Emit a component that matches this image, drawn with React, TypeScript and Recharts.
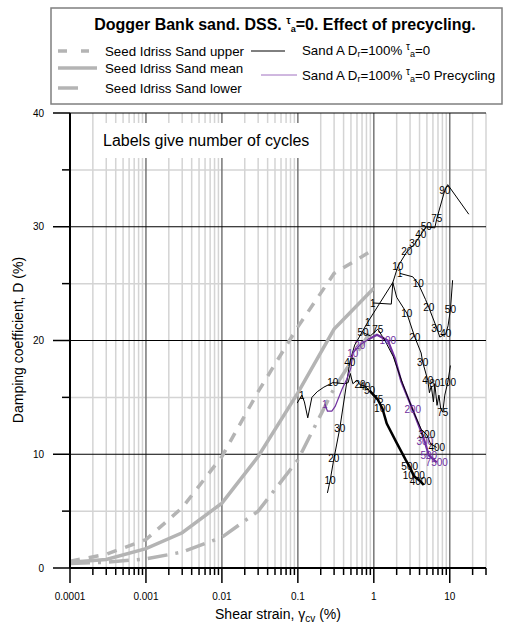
import React from "react";
import { ComposedChart, Line, XAxis, YAxis, CartesianGrid, LabelList } from "recharts";

type Pt = { x: number; d: number; n?: string };

const FONT = "'Liberation Sans', Arial, sans-serif";
const GREY = "#b4b4b4";
const PURPLE = "#7030a0";

// Seed & Idriss sand band
const SI_STRAIN = [0.0001, 0.0003, 0.001, 0.003, 0.01, 0.03, 0.1, 0.3, 1];
const SI_UPPER = [0.6, 1.2, 2.5, 5.3, 9.8, 15.5, 21.2, 25.9, 28.0];
const SI_MEAN = [0.5, 0.75, 1.7, 3.1, 5.7, 9.8, 15.4, 21.0, 24.6];
const SI_LOWER = [0.4, 0.5, 0.8, 1.4, 2.7, 5.0, 9.5, 15.8, 21.2];

// Sand A, Dr=100%, tau_a=0 (labels = number of cycles)
const TEST_STEEP: Pt[] = [
  { x: 0.245, d: 6.6 }, { x: 0.266, d: 7.7, n: "10" }, { x: 0.298, d: 9.6, n: "20" },
  { x: 0.357, d: 12.3, n: "30" }, { x: 0.483, d: 18.1, n: "40" }, { x: 0.56, d: 19.6 }, { x: 0.83, d: 21.6 },
];
const TEST_RISE: Pt[] = [
  { x: 0.83, d: 21.6, n: "1" }, { x: 1.78, d: 25.1 }, { x: 2.07, d: 26.5, n: "10" },
  { x: 2.72, d: 27.8, n: "20" }, { x: 3.46, d: 28.5, n: "30" }, { x: 4.15, d: 29.3, n: "40" },
  { x: 4.9, d: 30.0, n: "50" }, { x: 6.35, d: 29.9 }, { x: 6.74, d: 30.7, n: "75" },
  { x: 8.6, d: 33.2, n: "90" }, { x: 9.4, d: 33.7 }, { x: 17.8, d: 31.1 },
];
const TEST_DROP: Pt[] = [
  { x: 0.97, d: 23.3, n: "1" }, { x: 1.7, d: 23.2 }, { x: 1.78, d: 25.1 }, { x: 2.0, d: 23.8 },
  { x: 2.72, d: 22.4, n: "10" }, { x: 3.46, d: 20.3, n: "20" }, { x: 4.2, d: 18.9 },
  { x: 4.4, d: 18.1, n: "30" }, { x: 5.14, d: 16.5, n: "40" }, { x: 5.4, d: 15.4 },
  { x: 5.7, d: 16.0 }, { x: 6.1, d: 14.6 }, { x: 6.35, d: 16.2, n: "80" }, { x: 6.8, d: 14.3 },
  { x: 7.2, d: 15.2 }, { x: 7.6, d: 14.0 }, { x: 8.1, d: 13.7, n: "75" }, { x: 8.6, d: 15.2 },
  { x: 9.4, d: 16.3, n: "100" }, { x: 10.2, d: 17.8 },
];
const TEST_LOOP: Pt[] = [
  { x: 2.2, d: 25.9, n: "1" }, { x: 3.26, d: 25.6 }, { x: 3.85, d: 25.0, n: "10" },
  { x: 4.8, d: 23.6 }, { x: 5.3, d: 22.9, n: "20" }, { x: 6.74, d: 21.1, n: "30" },
  { x: 7.4, d: 20.3 }, { x: 8.86, d: 20.6, n: "40" }, { x: 9.5, d: 21.3 },
  { x: 10.2, d: 22.7, n: "50" }, { x: 10.9, d: 25.3 },
];
const TEST_LOW: Pt[] = [
  { x: 0.098, d: 14.5 }, { x: 0.113, d: 15.2, n: "1" }, { x: 0.122, d: 14.6 }, { x: 0.135, d: 13.2 },
  { x: 0.153, d: 15.0 }, { x: 0.18, d: 15.5 }, { x: 0.22, d: 15.9 }, { x: 0.289, d: 16.3, n: "10" },
  { x: 0.415, d: 16.2 }, { x: 0.46, d: 16.3 }, { x: 0.49, d: 17.1 }, { x: 0.53, d: 16.2 },
  { x: 0.6, d: 16.5 }, { x: 0.66, d: 16.1, n: "20" }, { x: 0.76, d: 16.0, n: "40" }, { x: 0.88, d: 15.6, n: "50" },
];
const TEST_LOW_TAIL: Pt[] = [
  { x: 0.88, d: 15.6 }, { x: 1.13, d: 14.8, n: "75" }, { x: 1.3, d: 14.0, n: "100" },
  { x: 1.48, d: 12.7 }, { x: 2.0, d: 11.0 }, { x: 2.63, d: 9.5 }, { x: 2.97, d: 8.9, n: "500" },
  { x: 3.36, d: 8.1, n: "1000" }, { x: 4.15, d: 7.6, n: "4000" }, { x: 4.55, d: 7.3 },
];
const TEST_PEAK: Pt[] = [
  { x: 0.72, d: 20.7, n: "50" }, { x: 0.9, d: 20.4 }, { x: 1.13, d: 21.0, n: "75" },
  { x: 1.4, d: 20.0 }, { x: 1.8, d: 18.6 }, { x: 2.4, d: 16.2 }, { x: 3.3, d: 13.8 },
  { x: 4.2, d: 12.2 }, { x: 5.0, d: 11.7, n: "300" }, { x: 5.6, d: 10.9 }, { x: 6.74, d: 10.6, n: "400" },
];

// Same sand after precycling
const PRE_RISE: Pt[] = [
  { x: 0.227, d: 14.4, n: "1" }, { x: 0.245, d: 13.8 }, { x: 0.28, d: 13.8 }, { x: 0.31, d: 14.2 },
  { x: 0.38, d: 15.7 }, { x: 0.44, d: 16.6 }, { x: 0.5, d: 17.6 }, { x: 0.53, d: 18.9, n: "10" },
  { x: 0.654, d: 19.6, n: "20" }, { x: 0.85, d: 20.1 },
];
const PRE_DROP: Pt[] = [
  { x: 0.85, d: 20.1 }, { x: 1.1, d: 20.5 }, { x: 1.53, d: 20.0, n: "100" }, { x: 1.9, d: 18.4 },
  { x: 2.3, d: 16.4 }, { x: 3.26, d: 13.9, n: "200" }, { x: 4.15, d: 12.1 },
  { x: 4.69, d: 11.1, n: "300" }, { x: 5.3, d: 9.9, n: "500" }, { x: 6.74, d: 9.3, n: "7500" },
];

const X_TICKS = [
  0.0001, 0.0002, 0.0003, 0.0004, 0.0005, 0.0006, 0.0007, 0.0008, 0.0009,
  0.001, 0.002, 0.003, 0.004, 0.005, 0.006, 0.007, 0.008, 0.009,
  0.01, 0.02, 0.03, 0.04, 0.05, 0.06, 0.07, 0.08, 0.09,
  0.1, 0.2, 0.3, 0.4, 0.5, 0.6, 0.7, 0.8, 0.9,
  1, 2, 3, 4, 5, 6, 7, 8, 9, 10, 20, 30,
];
const DECADES = [0.0001, 0.001, 0.01, 0.1, 1, 10];
const Y_TICKS = [0, 5, 10, 15, 20, 25, 30, 35, 40];

const band = (vals: number[]) => SI_STRAIN.map((x, i) => ({ x, d: vals[i] }));

const XTick = ({ x, y, payload }: any) => {
  const major = DECADES.includes(payload.value);
  return (
    <g>
      <line x1={x} x2={x} y1={y} y2={y + (major ? 15 : 7)} stroke="#000" strokeWidth={1.5} />
      {major && (
        <text x={x} y={y + 32} textAnchor="middle" fontSize={10} fill="#000" fontFamily={FONT}>
          {String(payload.value)}
        </text>
      )}
    </g>
  );
};

const YTick = ({ x, y, payload }: any) => {
  const major = payload.value % 10 === 0;
  return (
    <g>
      <line x1={x - (major ? 17 : 8)} x2={x} y1={y} y2={y} stroke="#000" strokeWidth={1.5} />
      {major && (
        <text x={x - 26} y={y + 3.5} textAnchor="end" fontSize={10} fill="#000" fontFamily={FONT}>
          {payload.value}
        </text>
      )}
    </g>
  );
};

const series = (data: Pt[], key: string, color: string, width: number) => (
  <Line key={key} data={data} dataKey="d" type="linear" stroke={color} strokeWidth={width}
    dot={false} activeDot={false} isAnimationActive={false}>
    <LabelList dataKey="n" position="center" fontSize={10} fill={color} fontFamily={FONT} />
  </Line>
);

// D_r ... tau_a text used in the legend entries
const SandA = ({ x, y, tail }: { x: number; y: number; tail: string }) => (
  <text x={x} y={y} fontSize={13.3}>
    Sand A D<tspan fontSize={9} dy={2}>r</tspan>
    <tspan dy={-2}>=100% </tspan>
    <tspan fontSize={10} dy={-5}>τ</tspan>
    <tspan fontSize={9} dy={7}>a</tspan>
    <tspan dy={-2}>{tail}</tspan>
  </text>
);

export default function App() {
  return (
    <div style={{ position: "absolute", left: 0, top: 0, width: 508, height: 625, background: "#fff", fontFamily: FONT }}>
      <ComposedChart width={508} height={625} margin={{ top: 113, right: 22, bottom: 0, left: 0 }}>
        <CartesianGrid stroke="#d4d4d4" strokeWidth={1.5}
          verticalValues={X_TICKS.filter(v => !DECADES.includes(v))} horizontalValues={[5, 15, 25, 35]} />
        <CartesianGrid stroke="#767676" strokeWidth={1.5} horizontal={false} verticalValues={DECADES} />
        <CartesianGrid stroke="#000" strokeWidth={1} vertical={false} horizontalValues={[10, 20, 30, 40]} />
        <XAxis dataKey="x" type="number" scale="log" domain={[0.0001, 30]} ticks={X_TICKS} interval={0}
          height={57} tickSize={0} tickMargin={0} tick={<XTick />} tickLine={false}
          axisLine={{ stroke: "#000", strokeWidth: 2 }} allowDataOverflow />
        <YAxis type="number" domain={[0, 40]} ticks={Y_TICKS} interval={0} width={70}
          tickSize={0} tickMargin={0} tick={<YTick />} tickLine={false}
          axisLine={{ stroke: "#000", strokeWidth: 2 }} />

        <Line data={band(SI_UPPER)} dataKey="d" type="linear" stroke={GREY} strokeWidth={3.5}
          strokeDasharray="10 9" dot={false} activeDot={false} isAnimationActive={false} />
        <Line data={band(SI_MEAN)} dataKey="d" type="linear" stroke={GREY} strokeWidth={3.5}
          dot={false} activeDot={false} isAnimationActive={false} />
        <Line data={band(SI_LOWER)} dataKey="d" type="linear" stroke={GREY} strokeWidth={3.5}
          strokeDasharray="20 8 3 8" dot={false} activeDot={false} isAnimationActive={false} />

        {series(TEST_STEEP, "steep", "#000", 1)}
        {series(TEST_RISE, "rise", "#000", 1)}
        {series(TEST_DROP, "drop", "#000", 1)}
        {series(TEST_LOOP, "loop", "#000", 1)}
        {series(TEST_LOW, "low", "#000", 1)}
        {series(TEST_LOW_TAIL, "lowtail", "#000", 2.5)}
        {series(PRE_RISE, "prerise", PURPLE, 1.2)}
        {series(PRE_DROP, "predrop", PURPLE, 2.2)}
        {series(TEST_PEAK, "peak", "#000", 1)}
      </ComposedChart>

      <svg width={508} height={625} style={{ position: "absolute", left: 0, top: 0, pointerEvents: "none" }}
        fontFamily={FONT}>
        <rect x={51} y={8} width={451} height={96} fill="#fff" stroke="#7f7f7f" strokeWidth={1.5} />
        <text x={285} y={30} textAnchor="middle" fontSize={16} fontWeight="bold" fill="#000">
          Dogger Bank sand. DSS. <tspan fontSize={10} dy={-6}>τ</tspan>
          <tspan fontSize={9} dy={8}>a</tspan>
          <tspan dy={-2}>=0. Effect of precycling.</tspan>
        </text>

        <line x1={58} x2={89} y1={51} y2={51} stroke={GREY} strokeWidth={3.5} strokeDasharray="9 14" />
        <text x={105} y={56} fontSize={13.3}>Seed Idriss Sand upper</text>
        <line x1={58} x2={97} y1={68} y2={68} stroke={GREY} strokeWidth={3.5} />
        <text x={105} y={73} fontSize={13.3}>Seed Idriss Sand mean</text>
        <line x1={58} x2={78} y1={88} y2={88} stroke={GREY} strokeWidth={3.5} />
        <text x={105} y={93} fontSize={13.3}>Seed Idriss Sand lower</text>

        <line x1={251} x2={285} y1={51} y2={51} stroke="#000" strokeWidth={1} />
        <SandA x={302} y={55} tail="=0" />
        <line x1={261} x2={297} y1={75} y2={75} stroke="#a070c0" strokeWidth={1} />
        <SandA x={302} y={80} tail="=0 Precycling" />

        <rect x={98} y={123} width={218} height={35} fill="#fff" />
        <text x={103} y={146} fontSize={16}>Labels give number of cycles</text>

        <text x={278} y={619} textAnchor="middle" fontSize={14}>
          Shear strain, γ<tspan fontSize={10} dy={3}>cv</tspan>
          <tspan dy={-3}> (%)</tspan>
        </text>
        <text transform="translate(23,340) rotate(-90)" textAnchor="middle" fontSize={14}>
          Damping coefficient, D (%)
        </text>
      </svg>
    </div>
  );
}
